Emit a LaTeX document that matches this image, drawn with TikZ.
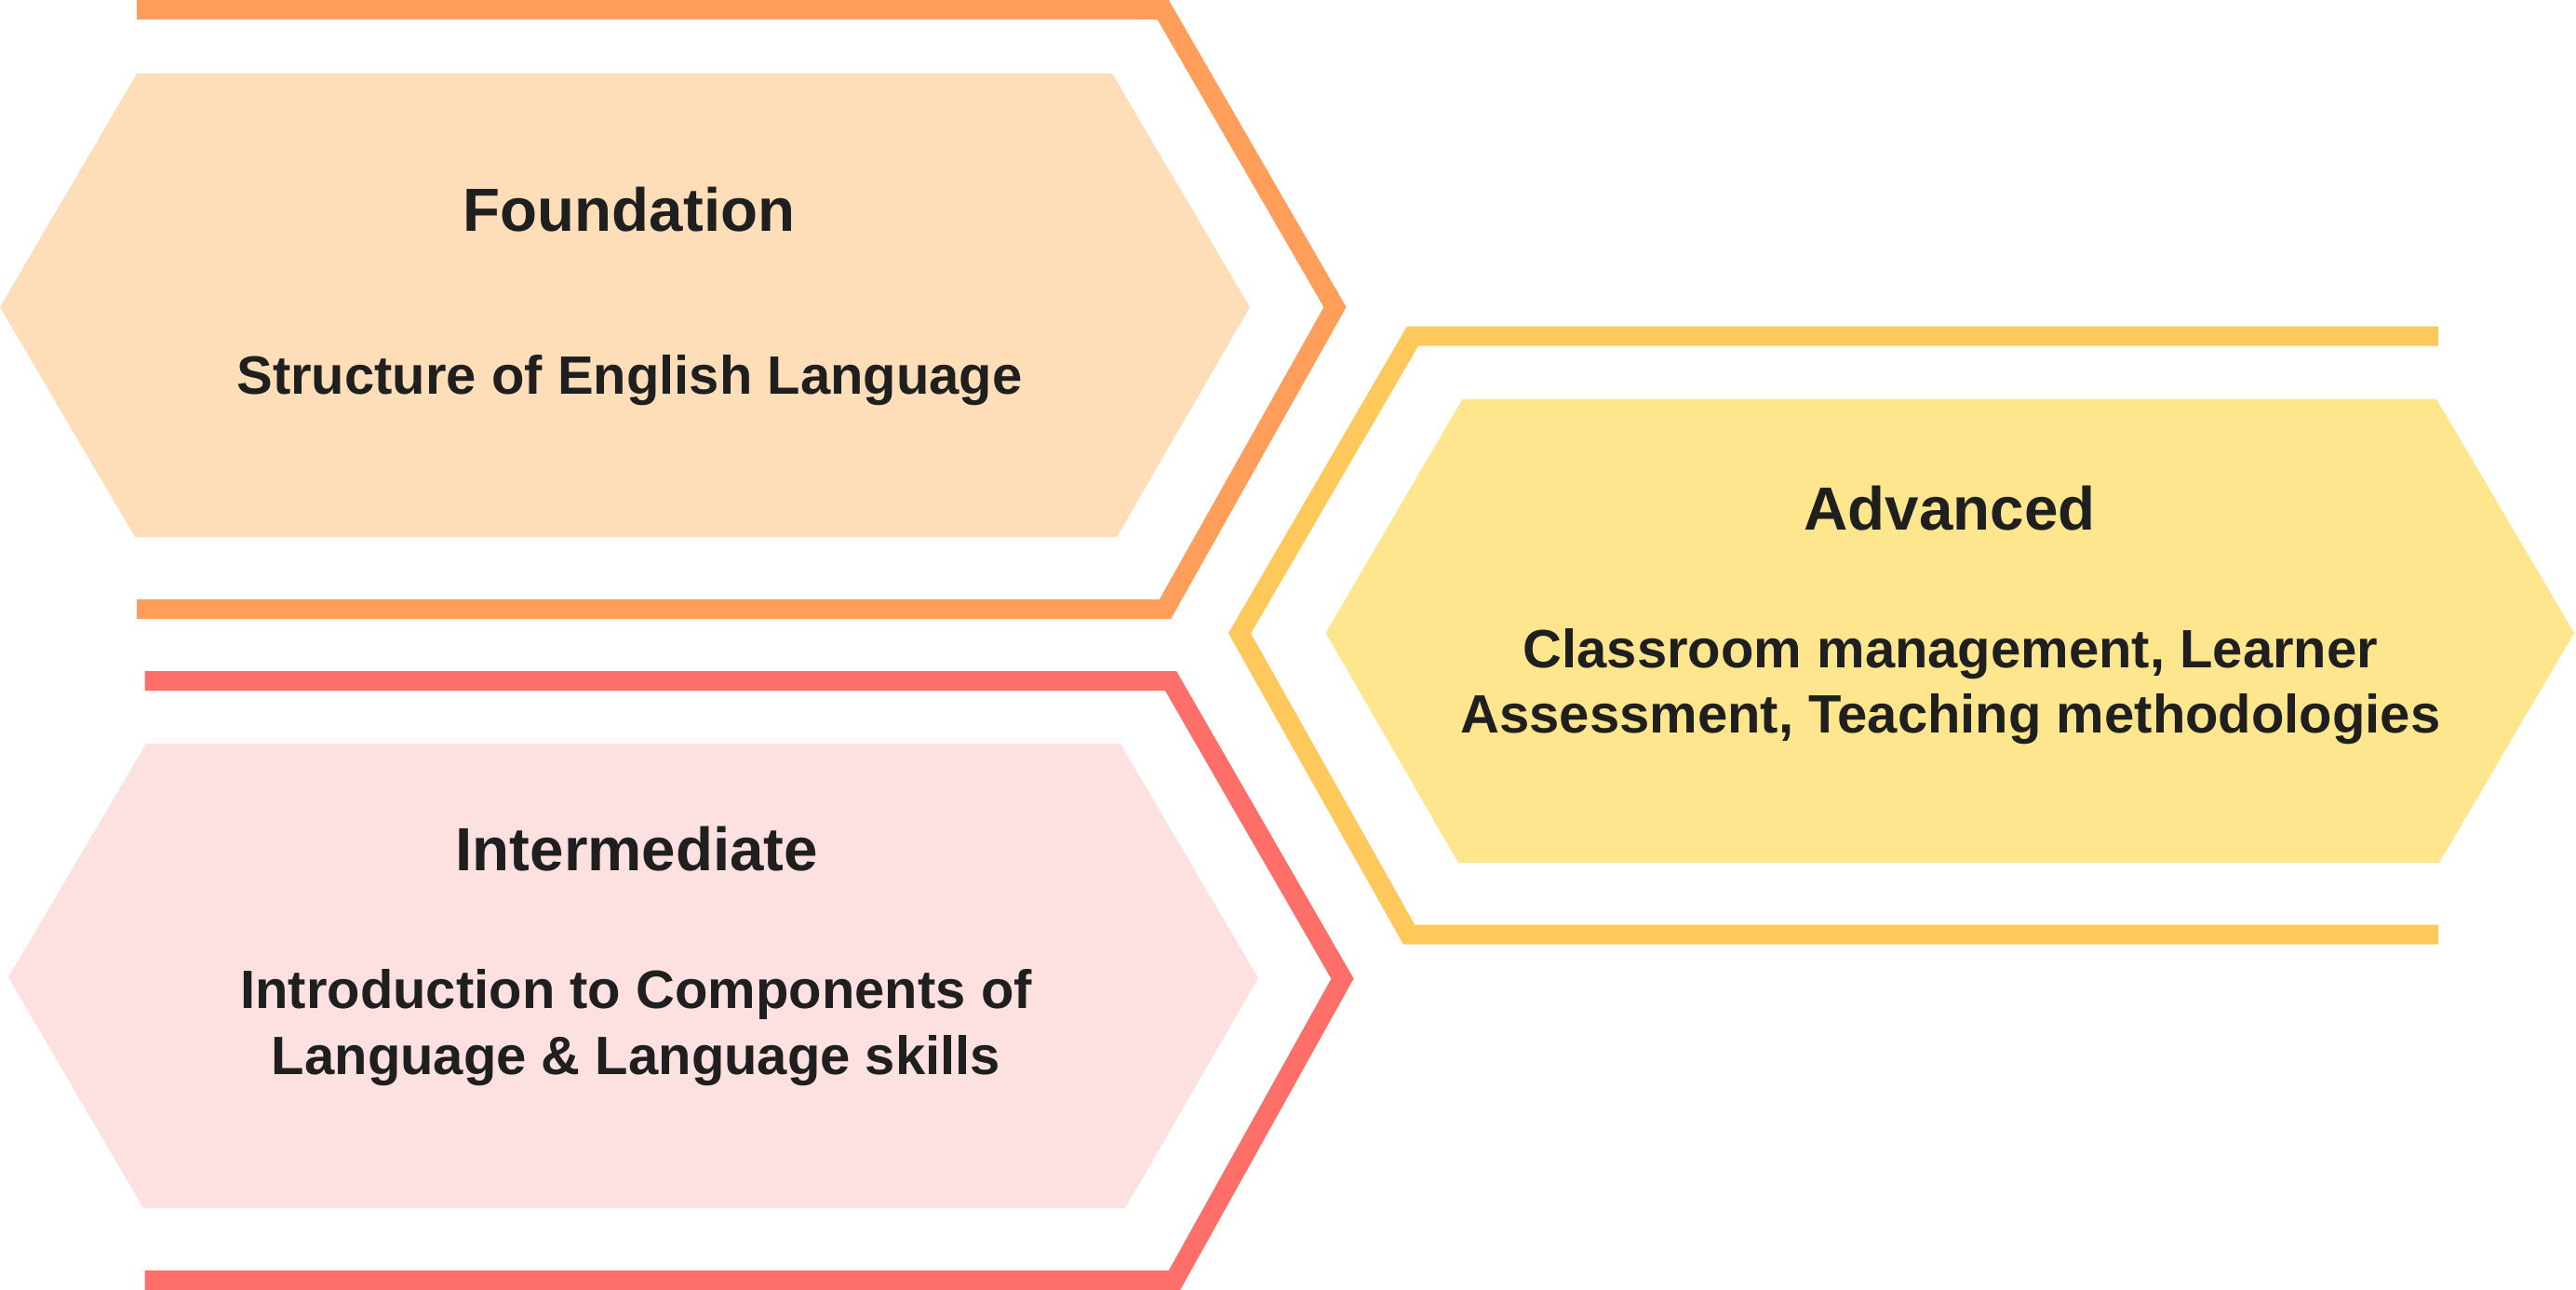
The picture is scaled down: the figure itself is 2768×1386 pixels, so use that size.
\documentclass[tikz,border=0pt]{standalone}
\usepackage{fontspec}
\setmainfont{Liberation Sans}
\definecolor{orangeline}{HTML}{FF9E5B}
\definecolor{orangefill}{HTML}{FDDEB9}
\definecolor{yellowline}{HTML}{FFC85A}
\definecolor{yellowfill}{HTML}{FEE68E}
\definecolor{redline}{HTML}{FF6F69}
\definecolor{pinkfill}{HTML}{FDE0E0}
\definecolor{inktext}{HTML}{1F1F1F}
\begin{document}
\begin{tikzpicture}[x=1pt,y=-1pt,
  stripe/.style={line width=21pt, line join=miter, line cap=butt},
  hexfill/.style={draw=none},
  titletext/.style={anchor=base, inner sep=0pt, text=inktext,
    font=\fontsize{65.5}{78}\selectfont\bfseries},
  bodytext/.style={anchor=base, inner sep=0pt, text=inktext,
    font=\fontsize{58}{70}\selectfont\bfseries}]
\useasboundingbox (0,0) rectangle (2768,1386);

% Foundation
\fill[orangefill, hexfill] (0,330) -- (147,79) -- (1195,79) -- (1343,330)
  -- (1200,577) -- (145,577) -- cycle;
\draw[orangeline, stripe] (147,10.4) -- (1249.7,10.4) -- (1434.5,330)
  -- (1252,654.5) -- (147,654.5);
\node[titletext] (foundtitle) at (676,248) {Foundation};
\node[bodytext] (foundbody) at (676.5,423) {Structure of English Language};

% Intermediate
\fill[pinkfill, hexfill] (9,1050) -- (157,799) -- (1204,799) -- (1352,1051)
  -- (1209,1298) -- (154,1298) -- cycle;
\draw[redline, stripe] (155.5,731.5) -- (1258,731.5) -- (1442.5,1051.5)
  -- (1262,1375.5) -- (155.5,1375.5);
\node[titletext] (intertitle) at (684.5,935) {Intermediate};
\node[bodytext] (interbodya) at (683.5,1083) {Introduction to Components of};
\node[bodytext] (interbodyb) at (683.5,1154) {Language \& Language skills};

% Advanced
\fill[yellowfill, hexfill] (1424.5,680) -- (1571.5,428.7) -- (2618,428.7)
  -- (2766,680) -- (2621,927) -- (1567,927) -- cycle;
\draw[yellowline, stripe] (2620,361) -- (1518,361) -- (1332,680.4)
  -- (1514,1004) -- (2620,1004);
\node[titletext] (advtitle) at (2095,569) {Advanced};
\node[bodytext] (advbodya) at (2096,717.5) {Classroom management, Learner};
\node[bodytext] (advbodyb) at (2096,787.6) {Assessment, Teaching methodologies};
\end{tikzpicture}
\end{document}
